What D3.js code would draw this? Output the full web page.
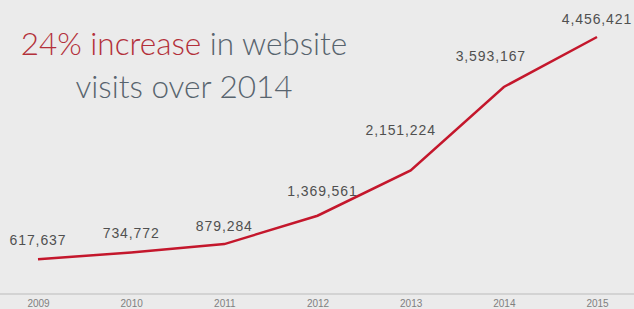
<!DOCTYPE html>
<html>
<head>
<meta charset="utf-8">
<script src="https://cdn.jsdelivr.net/npm/d3@7"></script>
<style>
  html, body { margin: 0; padding: 0; background: #ebebeb; }
  svg { display: block; }
</style>
</head>
<body>
<svg id="chart"></svg>
<script>
// Website visits per year, single red line with value labels

const years = ["2009", "2010", "2011", "2012", "2013", "2014", "2015"];
const visits = [617637, 734772, 879284, 1369561, 2151224, 3593167, 4456421];

// label nudges (dx, dy) so they sit like the original
const labelDx = [0, 0, 0, 5, -10, -13, 0];
const labelDy = [-14, -14, -13, -20, -35, -26, -13];

const WIDTH = 634;
const HEIGHT = 309;
const BASE_Y = 295;

const svg = d3.select("#chart")
    .attr("width", WIDTH)
    .attr("height", HEIGHT);

svg.append("rect")
    .attr("width", WIDTH)
    .attr("height", HEIGHT)
    .attr("fill", "#ebebeb");

const x = d3.scalePoint()
    .domain(years)
    .range([38, 597]);

const y = d3.scaleLinear()
    .domain([0, 4456421])
    .range([BASE_Y, 37]);

// Baseline + year ticks
const xAxis = svg.append("g")
    .attr("transform", `translate(0, ${BASE_Y - 1})`)
    .call(d3.axisBottom(x).tickSize(0).tickPadding(6));

xAxis.select(".domain").remove();
xAxis.append("line")
    .attr("x1", 0).attr("x2", WIDTH)
    .attr("stroke", "#d3d3d3")
    .attr("stroke-width", 2);

xAxis.selectAll("text")
    .attr("font-family", "Liberation Sans, Arial, sans-serif")
    .attr("font-size", "10px")
    .attr("fill", "#808080");

// Line
const line = d3.line()
    .x((d, i) => x(years[i]))
    .y(d => y(d));

svg.append("path")
    .datum(visits)
    .attr("d", line)
    .attr("fill", "none")
    .attr("stroke", "#c4172c")
    .attr("stroke-width", 2.5)
    .attr("stroke-linejoin", "miter");

// Value labels
svg.selectAll(".val")
    .data(visits)
    .join("text")
    .attr("class", "val")
    .attr("x", (d, i) => x(years[i]) + labelDx[i])
    .attr("y", (d, i) => y(d) + labelDy[i])
    .attr("text-anchor", "middle")
    .attr("font-family", "Liberation Sans, Arial, sans-serif")
    .attr("font-size", "14px")
    .attr("letter-spacing", "0.9px")
    .attr("fill", "#505050")
    .text(d => d3.format(",")(d));

// Title
const title = svg.append("text")
    .attr("text-anchor", "middle")
    .attr("font-family", "Lato, Liberation Sans, sans-serif")
    .attr("font-weight", 300)
    .attr("font-size", "31.5px")
    .attr("fill", "#58646e");

title.append("tspan")
    .attr("x", 184).attr("y", 55)
    .attr("fill", "#b3303a")
    .text("24% increase");
title.append("tspan")
    .text(" in website");
title.append("tspan")
    .attr("x", 184).attr("y", 98)
    .text("visits over 2014");
</script>
</body>
</html>
